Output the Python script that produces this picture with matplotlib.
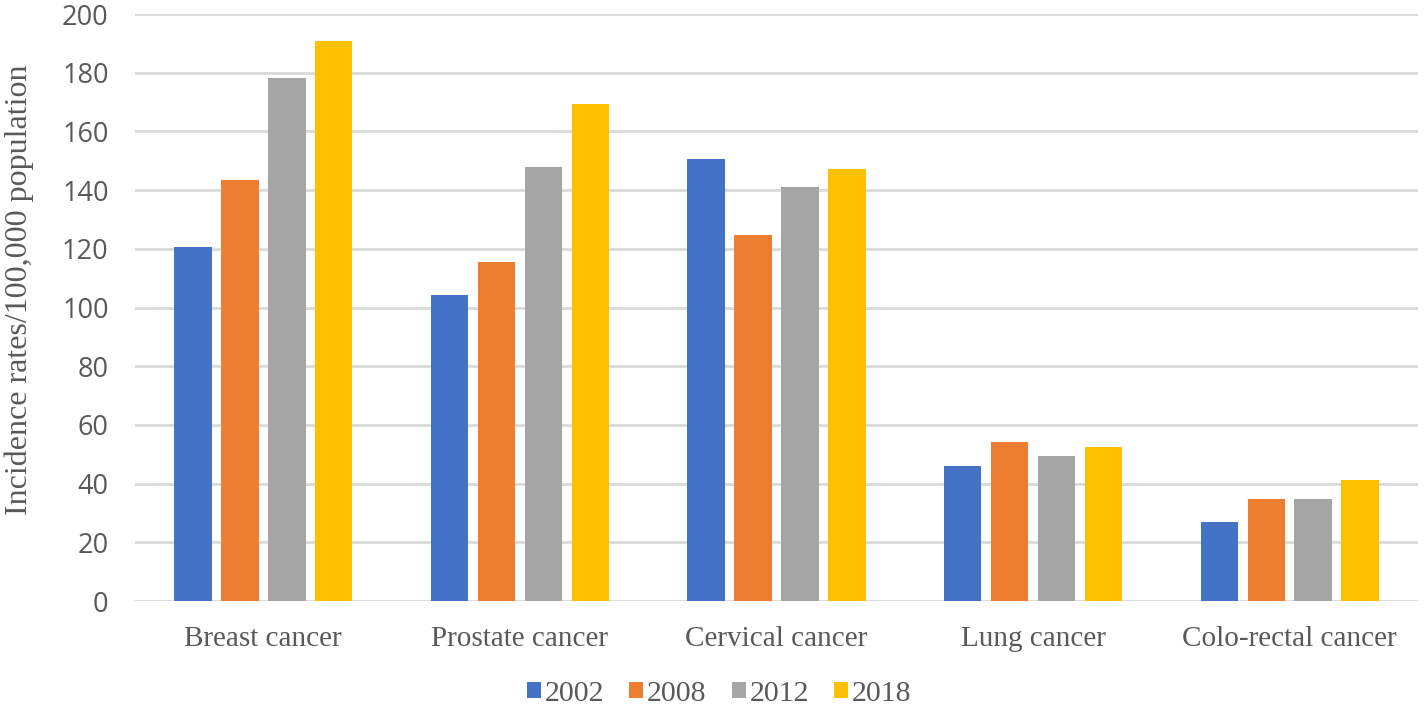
import numpy as np
import matplotlib
matplotlib.use("Agg")
import matplotlib.pyplot as plt

categories = ["Breast cancer", "Prostate cancer", "Cervical cancer", "Lung cancer", "Colo-rectal cancer"]
years = ["2002", "2008", "2012", "2018"]
v2002 = [120.5, 104.2, 150.5, 46.0, 27.0]
v2008 = [143.3, 115.5, 124.7, 54.2, 34.8]
v2012 = [178.3, 148.0, 141.0, 49.4, 34.8]
v2018 = [190.7, 169.2, 147.1, 52.5, 41.2]
colors = ["#4472c4", "#ed7d31", "#a5a5a5", "#ffc000"]

series = [v2002, v2008, v2012, v2018]
serif = "Liberation Serif"
grey = "#595959"

fig = plt.figure(figsize=(14.24, 7.08), dpi=100)
ax = fig.add_axes([0.0948, 0.1511, 0.901, 0.829])

x = np.arange(len(categories))
width = 0.146
step = 0.183
for i, (vals, col) in enumerate(zip(series, colors)):
    ax.bar(x + (i - 1.5) * step, vals, width=width, color=col, label=years[i], zorder=3)

ax.set_ylim(0, 200)
ax.set_xlim(-0.5, len(categories) - 0.5)
ax.set_yticks(np.arange(0, 201, 20))
ax.yaxis.grid(True, color="#d9d9d9", linewidth=2, zorder=0)
ax.set_axisbelow(True)
for s in ax.spines.values():
    s.set_visible(False)
ax.tick_params(axis="both", length=0)
ax.tick_params(axis="y", pad=19, labelsize=19.5, labelcolor=grey)
for t in ax.get_yticklabels():
    t.set_family("Open Sans")
ax.set_xticks(x)
ax.set_xticklabels(categories, family=serif, fontsize=21, color=grey)
ax.tick_params(axis="x", pad=18)
ax.set_ylabel("Incidence rates/100,000 population", family=serif, fontsize=23, color=grey)
ax.yaxis.set_label_coords(-0.079, 0.53)

leg = fig.legend(loc="center", bbox_to_anchor=(0.505, 0.02), ncol=4, frameon=False,
                 prop={"family": serif, "size": 21.5}, handlelength=0.47, handleheight=0.47,
                 handletextpad=0.12, columnspacing=0.85, borderaxespad=0)
for t in leg.get_texts():
    t.set_color(grey)

fig.savefig("out.png", dpi=100)
